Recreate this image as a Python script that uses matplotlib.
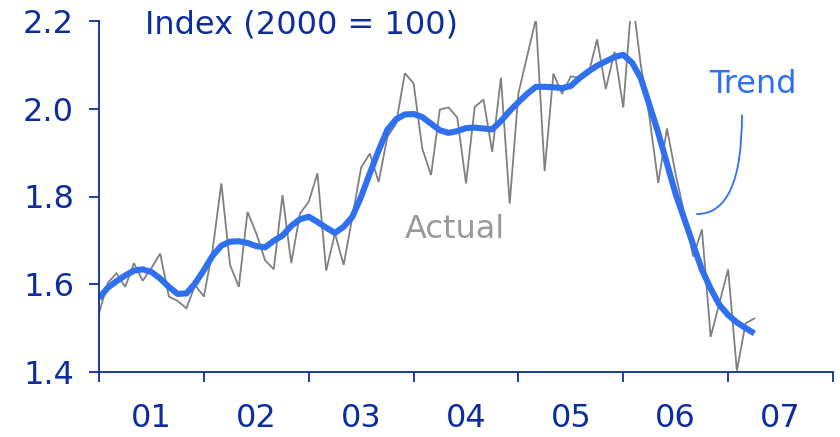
# coding: utf-8

# Imports
import matplotlib
matplotlib.use("Agg")
import matplotlib.pyplot as plt
import numpy as np


# Monthly index values, Jan 2001 onwards (2000 = 100, scaled to 1.0)
actual = [1.534, 1.603, 1.625, 1.594, 1.648, 1.608, 1.637, 1.670, 1.572, 1.562, 1.545, 1.598,
          1.572, 1.678, 1.830, 1.644, 1.594, 1.765, 1.716, 1.655, 1.634, 1.803, 1.648, 1.761,
          1.788, 1.853, 1.631, 1.716, 1.644, 1.754, 1.866, 1.898, 1.833, 1.936, 1.966, 2.081,
          2.058, 1.909, 1.849, 1.998, 2.003, 1.980, 1.830, 2.004, 2.021, 1.902, 2.071, 1.784,
          2.035, 2.120, 2.205, 1.858, 2.080, 2.034, 2.074, 2.070, 2.078, 2.158, 2.045, 2.130,
          2.003, 2.260, 2.100, 1.980, 1.831, 1.955, 1.850, 1.760, 1.663, 1.725, 1.480, 1.557,
          1.634, 1.403, 1.511, 1.522]
trend = [1.568, 1.592, 1.607, 1.620, 1.631, 1.634, 1.628, 1.613, 1.594, 1.578, 1.579, 1.602,
         1.632, 1.665, 1.688, 1.697, 1.698, 1.694, 1.687, 1.684, 1.699, 1.711, 1.733, 1.748,
         1.754, 1.742, 1.729, 1.717, 1.731, 1.754, 1.800, 1.853, 1.905, 1.952, 1.976, 1.987,
         1.988, 1.981, 1.966, 1.951, 1.945, 1.949, 1.956, 1.957, 1.955, 1.953, 1.972, 1.995,
         2.015, 2.034, 2.050, 2.050, 2.049, 2.047, 2.052, 2.070, 2.085, 2.098, 2.108, 2.118,
         2.123, 2.105, 2.070, 2.008, 1.945, 1.875, 1.805, 1.748, 1.690, 1.633, 1.590, 1.553,
         1.530, 1.513, 1.500, 1.488]
years = [2001, 2002, 2003, 2004, 2005, 2006, 2007]
yearLabels = ["01", "02", "03", "04", "05", "06", "07"]
yTicks = [1.4, 1.6, 1.8, 2.0, 2.2]

# Colours and text size
navy = "#0b2d9e"
blue = "#2f70f0"
grey = "#808080"
fs = 23

# Time axis in decimal years
t = 2001 + np.arange(len(actual)) / 12.0

# Plot
fig = plt.figure(figsize=(8.4, 4.37), dpi=100, facecolor='white')
ax = fig.add_axes([99 / 840, 1 - 372 / 437, 734 / 840, 351 / 437])

ax.plot(t, actual, color=grey, lw=1.3, solid_joinstyle='miter')
ax.plot(t, trend, color=blue, lw=4.4, solid_capstyle='butt', solid_joinstyle='round')

ax.set_xlim(2001, 2008)
ax.set_ylim(1.4, 2.2)

# Year boundaries as ticks, labels centred in each year
ax.set_xticks(years + [2008])
ax.set_xticklabels([])
ax.set_xticks([y + 0.5 for y in years], minor=True)
ax.set_xticklabels(yearLabels, minor=True)
ax.tick_params(axis='x', which='major', direction='out', length=7, width=1.3, color=navy)
ax.tick_params(axis='x', which='minor', length=0, pad=22, labelsize=fs, labelcolor=navy)

ax.set_yticks(yTicks)
ax.set_yticklabels(["{:.1f}".format(v) for v in yTicks])
ax.tick_params(axis='y', direction='out', length=7, width=1.3, color=navy,
               pad=11, labelsize=fs, labelcolor=navy)

for side in ['top', 'right']:
    ax.spines[side].set_visible(False)
for side in ['left', 'bottom']:
    ax.spines[side].set_color(navy)
    ax.spines[side].set_linewidth(1.3)

# Series labels
ax.text(2004.395, 1.705, "Actual", color="#999999", fontsize=fs, ha='center', va='baseline')
ax.text(2007.237, 2.036, "Trend", color=blue, fontsize=fs, ha='center', va='baseline')
ax.annotate("", xy=(2006.703, 1.760), xytext=(2007.132, 1.985),
            arrowprops=dict(arrowstyle='-', color=blue, lw=1.3, shrinkA=0, shrinkB=0,
                            connectionstyle='angle3,angleA=90,angleB=0'))

fig.text(145 / 840, 1 - 33 / 437, "Index (2000 = 100)", color=navy, fontsize=fs,
         ha='left', va='baseline')

plt.savefig("out.png", dpi=100, facecolor='white')
